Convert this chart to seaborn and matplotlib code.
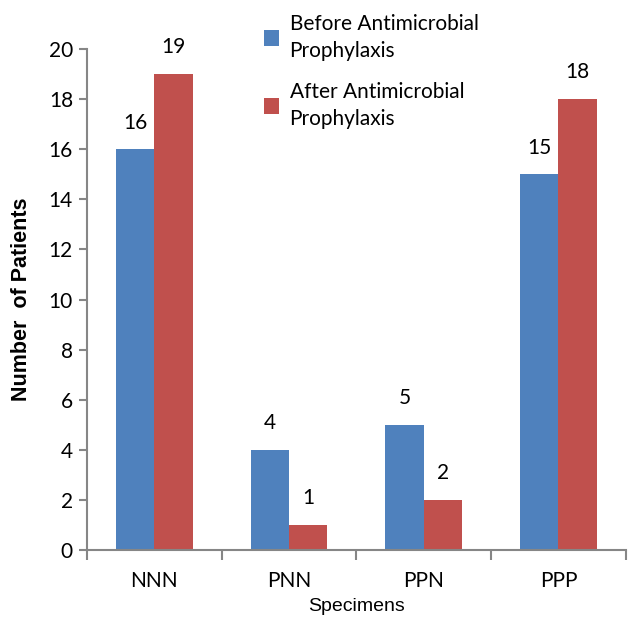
import pandas as pd
import matplotlib
matplotlib.use('Agg')
import matplotlib.pyplot as plt
import seaborn as sns

# 数据
specimens = ['NNN', 'PNN', 'PPN', 'PPP']
before = [16, 4, 5, 15]
after = [19, 1, 2, 18]
series_names = ['Before Antimicrobial\nProphylaxis', 'After Antimicrobial\nProphylaxis']
colors = ['#4F81BD', '#C0504D']

df = pd.DataFrame({
    'Specimens': specimens * 2,
    'Patients': before + after,
    'Group': [series_names[0]] * len(specimens) + [series_names[1]] * len(specimens),
})

sns.set_style('white')
plt.rcParams['font.family'] = ['Lato', 'DejaVu Sans']
plt.rcParams['text.color'] = 'black'

fig = plt.figure(figsize=(6.29, 6.25), dpi=100)
ax = fig.add_axes([0.138, 0.12, 0.857, 0.8016])

sns.barplot(data=df, x='Specimens', y='Patients', hue='Group', palette=colors,
            width=0.57, saturation=1, linewidth=0, ax=ax, legend=True)

for c in ax.containers:
    ax.bar_label(c, padding=12, fontsize=15, color='black')

ax.set_ylim(0, 20)
ax.set_xlim(-0.5, 3.5)
ax.set_yticks(range(0, 21, 2))
ax.tick_params(axis='y', labelsize=15, length=6, width=1.5, color='#868686',
               labelcolor='black', direction='out', left=True, pad=4)
ax.tick_params(axis='x', which='major', labelsize=15, labelcolor='black', length=0, pad=15)
ax.set_xticks([-0.5, 0.5, 1.5, 2.5, 3.5], minor=True)
ax.tick_params(axis='x', which='minor', length=7, width=1.5, color='#868686',
               direction='out', bottom=True)

for s in ['top', 'right']:
    ax.spines[s].set_visible(False)
for s in ['left', 'bottom']:
    ax.spines[s].set_color('#868686')
    ax.spines[s].set_linewidth(1.5)

ax.set_ylabel('Number  of Patients', fontsize=15.5, fontweight='bold', color='black',
              family=['Liberation Sans'], labelpad=12)
ax.set_xlabel('Specimens', fontsize=14, color='black', family=['Liberation Sans'], labelpad=5)

leg = ax.legend(loc='upper left', bbox_to_anchor=(250 / 629, 1.0),
                bbox_transform=fig.transFigure, frameon=False, fontsize=15,
                handlelength=0.75, handleheight=0.75, handletextpad=0.5,
                labelspacing=1.0, borderpad=0.15)
for t in leg.get_texts():
    t.set_linespacing(1.45)

fig.savefig('out.png', dpi=100)
